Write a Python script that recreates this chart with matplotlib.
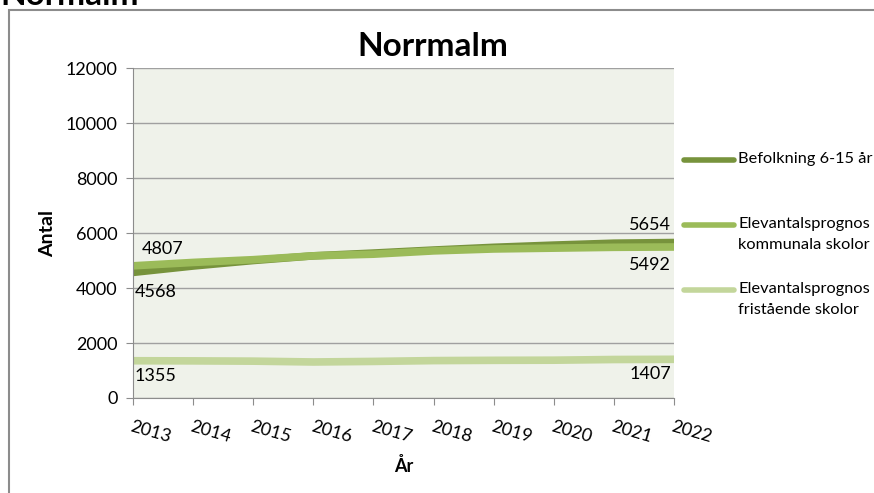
import matplotlib.pyplot as plt
from matplotlib.patches import Rectangle
from matplotlib.lines import Line2D

years = ["2013", "2014", "2015", "2016", "2017", "2018", "2019", "2020", "2021", "2022"]
befolkning = [4568, 4800, 5000, 5170, 5270, 5380, 5480, 5560, 5630, 5654]
kommunala = [4807, 4930, 5030, 5170, 5230, 5350, 5420, 5450, 5480, 5492]
fristaende = [1355, 1350, 1340, 1310, 1330, 1360, 1370, 1375, 1400, 1407]

series_labels = ['Befolkning 6-15 år',
                 'Elevantalsprognos\nkommunala skolor',
                 'Elevantalsprognos\nfristående skolor']
series_colors = ['#77933C', '#9BBB59', '#C3D69B']

plt.rcParams['font.family'] = ['Lato', 'DejaVu Sans']

fig = plt.figure(figsize=(8.74, 4.93), dpi=100)
ax = fig.add_axes([0.1522, 0.1927, 0.6190, 0.6693])

# outer chart frame, partly cropped like the screenshot
fig.add_artist(Rectangle((9 / 874, -0.2), 1.2, 1.2 - 10 / 493,
                         transform=fig.transFigure, fill=False,
                         edgecolor='#8c8c8c', lw=1.5, clip_on=False))
fig.text(0.0, 1 - 5 / 493, "Normalm", fontsize=24, fontweight='bold',
         va='baseline', ha='left')

x = range(len(years))
for vals, lab, col in zip([befolkning, kommunala, fristaende], series_labels, series_colors):
    ax.plot(x, vals, color=col, lw=5.5, solid_capstyle='butt', label=lab)

ax.set_facecolor('#EFF2EA')
ax.set_xlim(0, len(years) - 1)
ax.set_ylim(0, 12000)
ax.set_yticks(range(0, 12001, 2000))
ax.set_xticks(list(x))
ax.set_xticklabels(years, rotation=-16, ha='left', va='top', rotation_mode='anchor',
                   fontsize=13)
ax.tick_params(axis='y', labelsize=13, length=5, color='#8c8c8c', pad=6)
ax.tick_params(axis='x', length=5, color='#8c8c8c', pad=10)
ax.grid(axis='y', color='#a0a0a0', lw=1)
ax.set_axisbelow(True)
for s in ['top', 'right']:
    ax.spines[s].set_visible(False)
for s in ['left', 'bottom']:
    ax.spines[s].set_color('#8c8c8c')

ax.set_title('Norrmalm', fontsize=24, fontweight='bold', pad=9, x=0.555)
ax.set_ylabel('Antal', fontsize=14, fontweight='bold', labelpad=7)
ax.set_xlabel('År', fontsize=13, fontweight='bold', labelpad=8)

# data labels at start and end
fs = 13
ax.annotate(str(kommunala[0]), (0, kommunala[0]), xytext=(6, 6), textcoords='offset points',
            fontsize=fs, ha='left', va='bottom')
ax.annotate(str(befolkning[0]), (0, befolkning[0]), xytext=(1, -8), textcoords='offset points',
            fontsize=fs, ha='left', va='top')
ax.annotate(str(befolkning[-1]), (9, befolkning[-1]), xytext=(-2, 7), textcoords='offset points',
            fontsize=fs, ha='right', va='bottom')
ax.annotate(str(kommunala[-1]), (9, kommunala[-1]), xytext=(-2, -7), textcoords='offset points',
            fontsize=fs, ha='right', va='top')
ax.annotate(str(fristaende[0]), (0, fristaende[0]), xytext=(1, -5), textcoords='offset points',
            fontsize=fs, ha='left', va='top')
ax.annotate(str(fristaende[-1]), (9, fristaende[-1]), xytext=(-2, -5), textcoords='offset points',
            fontsize=fs, ha='right', va='top')

# legend drawn by hand: the handle sits on the first line of each label, like Excel
W, H = 874, 493
for i, (lab, col) in enumerate(zip(series_labels, series_colors)):
    yc = [160, 225, 290][i]
    fig.add_artist(Line2D([684 / W, 734 / W], [1 - yc / H] * 2, color=col, lw=4,
                          solid_capstyle='round', transform=fig.transFigure))
    fig.text(738 / W, 1 - (yc - 8) / H, lab, fontsize=11.8, va='top', ha='left',
             linespacing=1.6)

fig.savefig('out.png', dpi=100)
